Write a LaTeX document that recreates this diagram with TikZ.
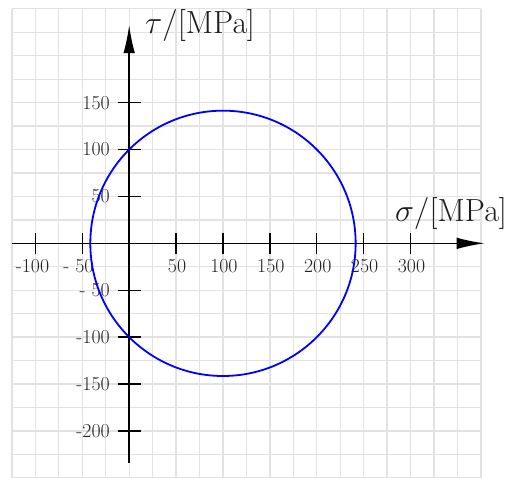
\RequirePackage{fix-cm}
\documentclass[tikz,border=0pt]{standalone}
\usetikzlibrary{arrows.meta}
\definecolor{gridgray}{RGB}{226,226,226}
\definecolor{ticktext}{RGB}{35,35,35}
\definecolor{labeltext}{RGB}{30,30,30}
\tikzset{
  gridline/.style={draw=gridgray, line width=1.3pt},
  axisline/.style={draw=black, line width=1.6pt, -{Latex[length=28pt,width=11.5pt]}},
  tickmark/.style={draw=black, line width=1.3pt},
  ticklabel/.style={inner sep=0pt, text=ticktext, font=\fontsize{19.8}{22}\selectfont},
  axislabel/.style={inner sep=0pt, text=labeltext, font=\fontsize{32}{36}\selectfont},
  mohr/.style={draw=blue, line width=1.8pt}
}
\begin{document}
\begin{tikzpicture}[x=0.938pt, y=0.938pt]
\useasboundingbox (-137.7,-249.1) rectangle (404.9,259.4);
% grid
\foreach \gx in {-125,-100,...,375} \draw[gridline] (\gx,-252) -- (\gx,250);
\foreach \gy in {-250,-225,...,250} \draw[gridline] (-125,\gy) -- (375,\gy);
% axes
\coordinate (xstart) at (-125,0);
\coordinate (xend) at (379,0);
\coordinate (ystart) at (0,-234);
\coordinate (yend) at (0,232.7);
\draw[axisline] (xstart) -- (xend);
\draw[axisline] (ystart) -- (yend);
% x ticks
\foreach \t in {-100,-50,50,100,150,200,250,300}
  \draw[tickmark] (\t,-11.5) -- (\t,11.5);
% y ticks
\foreach \t in {-200,-150,-100,-50,50,100,150}
  \draw[tickmark] (-12.3,\t) -- (12.3,\t);
% x tick labels
\node[ticklabel] (xl1) at (-103,-24) {-100};
\node[ticklabel] (xl2) at (-54,-24) {- 50};
\node[ticklabel] (xl3) at (51,-24) {50};
\node[ticklabel] (xl4) at (101,-24) {100};
\node[ticklabel] (xl5) at (151,-24) {150};
\node[ticklabel] (xl6) at (201,-24) {200};
\node[ticklabel] (xl7) at (251,-24) {250};
\node[ticklabel] (xl8) at (301,-24) {300};
% y tick labels
\node[ticklabel, anchor=east] (yl1) at (-20.5,150) {150};
\node[ticklabel, anchor=east] (yl2) at (-20.5,100) {100};
\node[ticklabel, anchor=east] (yl3) at (-20.5,50) {50};
\node[ticklabel, anchor=east] (yl4) at (-20.5,-50) {- 50};
\node[ticklabel, anchor=east] (yl5) at (-20.5,-100) {-100};
\node[ticklabel, anchor=east] (yl6) at (-20.5,-150) {-150};
\node[ticklabel, anchor=east] (yl7) at (-20.5,-200) {-200};
% axis labels
\node[axislabel] (sigmalabel) at (343,31.8) {$\sigma/[\mathrm{MPa}]$};
\node[axislabel] (taulabel) at (75.5,232.7) {$\tau/[\mathrm{MPa}]$};
% Mohr circle
\coordinate (center) at (100,0);
\draw[mohr] (center) circle[radius=141.42];
\end{tikzpicture}
\end{document}
